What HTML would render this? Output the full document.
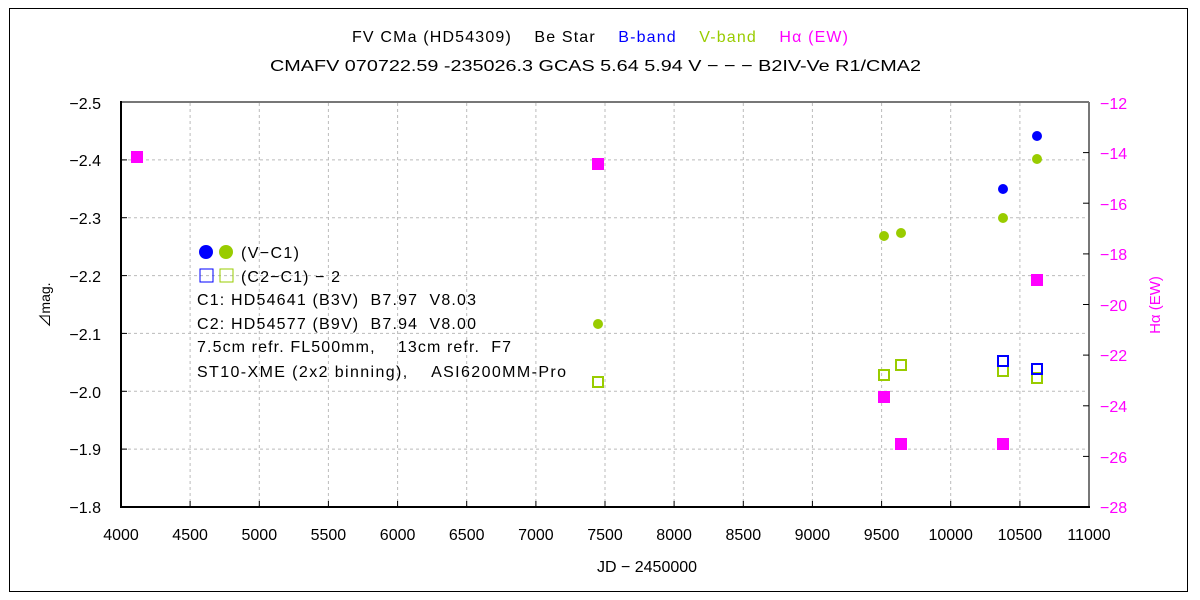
<!DOCTYPE html>
<html><head><meta charset="utf-8"><style>body{margin:0;background:#fff}svg{display:block}text{font-family:"Liberation Sans","Noto Sans CJK JP",sans-serif;white-space:pre}</style></head><body>
<svg width="1200" height="600" xmlns="http://www.w3.org/2000/svg" xml:space="preserve">
<rect x="0" y="0" width="1200" height="600" fill="#fff"/>
<rect x="9.5" y="8.5" width="1178" height="583" fill="none" stroke="#000" stroke-width="1"/>
<g stroke="#bbb" stroke-dasharray="3,3" stroke-width="1">
<line x1="190.1" y1="103" x2="190.1" y2="506"/><line x1="259.3" y1="103" x2="259.3" y2="506"/><line x1="328.4" y1="103" x2="328.4" y2="506"/><line x1="397.6" y1="103" x2="397.6" y2="506"/><line x1="466.7" y1="103" x2="466.7" y2="506"/><line x1="535.9" y1="103" x2="535.9" y2="506"/><line x1="605" y1="103" x2="605" y2="506"/><line x1="674.1" y1="103" x2="674.1" y2="506"/><line x1="743.3" y1="103" x2="743.3" y2="506"/><line x1="812.4" y1="103" x2="812.4" y2="506"/><line x1="881.6" y1="103" x2="881.6" y2="506"/><line x1="950.7" y1="103" x2="950.7" y2="506"/><line x1="1019.9" y1="103" x2="1019.9" y2="506"/>
<line x1="122" y1="159.9" x2="1088" y2="159.9"/><line x1="122" y1="217.7" x2="1088" y2="217.7"/><line x1="122" y1="275.6" x2="1088" y2="275.6"/><line x1="122" y1="333.4" x2="1088" y2="333.4"/><line x1="122" y1="391.3" x2="1088" y2="391.3"/><line x1="122" y1="449.1" x2="1088" y2="449.1"/>
</g>
<line x1="121" y1="102" x2="1089" y2="102" stroke="#777" stroke-width="2"/>
<line x1="1089" y1="102" x2="1089" y2="507" stroke="#777" stroke-width="2"/>
<line x1="121" y1="101" x2="121" y2="507" stroke="#000" stroke-width="2"/>
<line x1="120" y1="507" x2="1090" y2="507" stroke="#000" stroke-width="2"/>
<g stroke="#000" stroke-width="1">
<line x1="121" y1="159.9" x2="127" y2="159.9"/><line x1="121" y1="217.7" x2="127" y2="217.7"/><line x1="121" y1="275.6" x2="127" y2="275.6"/><line x1="121" y1="333.4" x2="127" y2="333.4"/><line x1="121" y1="391.3" x2="127" y2="391.3"/><line x1="121" y1="449.1" x2="127" y2="449.1"/>
<line x1="1083" y1="152.6" x2="1089" y2="152.6"/><line x1="1083" y1="203.2" x2="1089" y2="203.2"/><line x1="1083" y1="253.9" x2="1089" y2="253.9"/><line x1="1083" y1="304.5" x2="1089" y2="304.5"/><line x1="1083" y1="355.1" x2="1089" y2="355.1"/><line x1="1083" y1="405.8" x2="1089" y2="405.8"/><line x1="1083" y1="456.4" x2="1089" y2="456.4"/>
<line x1="190.1" y1="501" x2="190.1" y2="507"/><line x1="259.3" y1="501" x2="259.3" y2="507"/><line x1="328.4" y1="501" x2="328.4" y2="507"/><line x1="397.6" y1="501" x2="397.6" y2="507"/><line x1="466.7" y1="501" x2="466.7" y2="507"/><line x1="535.9" y1="501" x2="535.9" y2="507"/><line x1="605" y1="501" x2="605" y2="507"/><line x1="674.1" y1="501" x2="674.1" y2="507"/><line x1="743.3" y1="501" x2="743.3" y2="507"/><line x1="812.4" y1="501" x2="812.4" y2="507"/><line x1="881.6" y1="501" x2="881.6" y2="507"/><line x1="950.7" y1="501" x2="950.7" y2="507"/><line x1="1019.9" y1="501" x2="1019.9" y2="507"/>
</g>
<g font-size="16" fill="#000" text-anchor="end">
<text x="101" y="109">−2.5</text><text x="101" y="166">−2.4</text><text x="101" y="224">−2.3</text><text x="101" y="282">−2.2</text><text x="101" y="340">−2.1</text><text x="101" y="398">−2.0</text><text x="101" y="455">−1.9</text><text x="101" y="513">−1.8</text>
</g>
<g font-size="16" fill="#f0f" text-anchor="start">
<text x="1100" y="109">−12</text><text x="1100" y="159">−14</text><text x="1100" y="210">−16</text><text x="1100" y="260">−18</text><text x="1100" y="311">−20</text><text x="1100" y="361">−22</text><text x="1100" y="412">−24</text><text x="1100" y="463">−26</text><text x="1100" y="513">−28</text>
</g>
<g font-size="16" fill="#000" text-anchor="middle">
<text x="121" y="540">4000</text><text x="190.1" y="540">4500</text><text x="259.3" y="540">5000</text><text x="328.4" y="540">5500</text><text x="397.6" y="540">6000</text><text x="466.7" y="540">6500</text><text x="535.9" y="540">7000</text><text x="605" y="540">7500</text><text x="674.1" y="540">8000</text><text x="743.3" y="540">8500</text><text x="812.4" y="540">9000</text><text x="881.6" y="540">9500</text><text x="950.7" y="540">10000</text><text x="1019.9" y="540">10500</text><text x="1089" y="540">11000</text>
<text x="647" y="572">JD − 2450000</text>
</g>
<text x="352" y="42" font-size="16" textLength="496" lengthAdjust="spacing"><tspan>FV CMa (HD54309)    Be Star    </tspan><tspan fill="#00f">B-band</tspan><tspan>    </tspan><tspan fill="#9c0">V-band</tspan><tspan>    </tspan><tspan fill="#f0f">Hα (EW)</tspan></text>
<text x="270" y="71" font-size="16" textLength="651" lengthAdjust="spacingAndGlyphs">CMAFV 070722.59 -235026.3 GCAS 5.64 5.94 V − − − B2IV-Ve R1/CMA2</text>
<text transform="translate(50,305) rotate(-90)" font-size="14" text-anchor="middle">⊿mag.</text>
<text transform="translate(1160,305) rotate(-90)" font-size="15" fill="#f0f" text-anchor="middle">Hα (EW)</text>
<g fill="#f0f">
<rect x="131" y="151" width="12" height="12"/><rect x="592" y="158" width="12" height="12"/><rect x="878" y="391" width="12" height="12"/><rect x="895" y="438" width="12" height="12"/><rect x="997" y="438" width="12" height="12"/><rect x="1031" y="274" width="12" height="12"/>
</g>
<g fill="#9c0">
<circle cx="598" cy="324" r="5"/><circle cx="884" cy="236" r="5"/><circle cx="901" cy="233" r="5"/><circle cx="1003" cy="218" r="5"/><circle cx="1037" cy="159" r="5"/>
</g>
<g fill="#00f"><circle cx="1003" cy="189" r="5"/><circle cx="1037" cy="136" r="5"/></g>
<g fill="none" stroke="#9c0" stroke-width="2">
<rect x="593" y="377" width="10" height="10"/><rect x="879" y="370" width="10" height="10"/><rect x="896" y="360" width="10" height="10"/><rect x="998" y="366" width="10" height="10"/><rect x="1032" y="373" width="10" height="10"/>
</g>
<g fill="none" stroke="#00f" stroke-width="2"><rect x="998" y="356" width="10" height="10"/><rect x="1032" y="364" width="10" height="10"/></g>
<circle cx="206" cy="252" r="7" fill="#00f"/><circle cx="226" cy="252" r="7" fill="#9c0"/>
<rect x="200" y="269" width="13" height="13" fill="none" stroke="#00f" stroke-width="1"/><rect x="220" y="269" width="13" height="13" fill="none" stroke="#9c0" stroke-width="1"/>
<g font-size="16" fill="#000">
<text x="241" y="258" textLength="58">(V−C1)</text>
<text x="241" y="282" textLength="99">(C2−C1) − 2</text>
<text x="197" y="305" textLength="279">C1: HD54641 (B3V)  B7.97  V8.03</text>
<text x="197" y="329" textLength="279">C2: HD54577 (B9V)  B7.94  V8.00</text>
<text x="197" y="352" textLength="314">7.5cm refr. FL500mm,    13cm refr.  F7</text>
<text x="197" y="377" textLength="369">ST10-XME (2x2 binning),    ASI6200MM-Pro</text>
</g>
</svg>
</body></html>
